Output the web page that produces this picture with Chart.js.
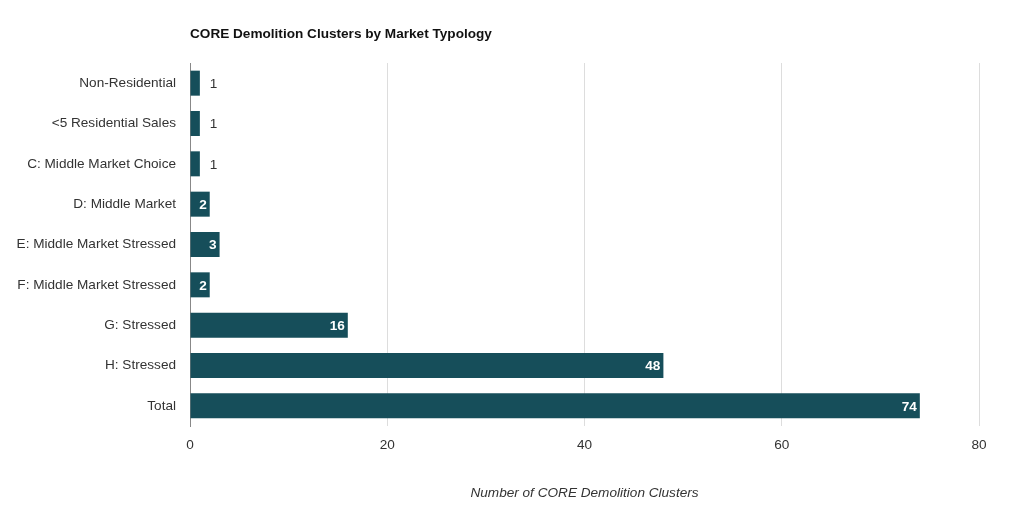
<!DOCTYPE html>
<html><head><meta charset="utf-8">
<script src="https://cdn.jsdelivr.net/npm/chart.js@4.4.1/dist/chart.umd.min.js"></script>
<style>html,body{margin:0;padding:0;background:#fff}#wrap{width:1024px;height:512px}</style>
</head><body><div id="wrap"><canvas id="c" width="1024" height="512"></canvas></div>
<script>
const chartTitle = 'CORE Demolition Clusters by Market Typology';
const categories = ['Non-Residential','<5 Residential Sales','C: Middle Market Choice','D: Middle Market','E: Middle Market Stressed','F: Middle Market Stressed','G: Stressed','H: Stressed','Total'];
const values = [1,1,1,2,3,2,16,48,74];
const xTicks = [0,20,40,60,80];
const xAxisTitle = 'Number of CORE Demolition Clusters';
const FONT = '"Liberation Sans", Arial, sans-serif';
const FS = 13.6;

const labelPlugin = {
  id: 'labels',
  afterDatasetsDraw(chart) {
    const ctx = chart.ctx;
    const meta = chart.getDatasetMeta(0);
    ctx.save();
    ctx.textBaseline = 'middle';
    meta.data.forEach((bar, i) => {
      const v = values[i];
      if (v >= 2) {
        ctx.font = 'bold ' + FS + 'px ' + FONT;
        ctx.fillStyle = '#ffffff';
        ctx.textAlign = 'right';
        ctx.fillText(String(v), bar.x - 3, bar.y + 1);
      } else {
        ctx.font = FS + 'px ' + FONT;
        ctx.fillStyle = '#333333';
        ctx.textAlign = 'left';
        ctx.fillText(String(v), bar.x + 10, bar.y + 1);
      }
    });
    ctx.restore();
  },
  afterDraw(chart) {
    const ctx = chart.ctx;
    ctx.save();
    ctx.font = 'bold ' + FS + 'px ' + FONT;
    ctx.fillStyle = '#111111';
    ctx.textAlign = 'left';
    ctx.textBaseline = 'middle';
    ctx.fillText(chartTitle, chart.chartArea.left, 34);
    ctx.restore();
  }
};

new Chart(document.getElementById('c'), {
  type: 'bar',
  data: { labels: categories, datasets: [{ data: values, backgroundColor: '#164e5a', barPercentage: 0.62, categoryPercentage: 1.0 }] },
  options: {
    indexAxis: 'y',
    responsive: false,
    animation: false,
    devicePixelRatio: 1,
    layout: { padding: { top: 63, right: 45, left: 0, bottom: 0 } },
    plugins: { legend: { display: false }, tooltip: { enabled: false } },
    scales: {
      x: {
        min: 0, max: 80,
        afterBuildTicks(scale) { scale.ticks = xTicks.map(v => ({ value: v })); },
        afterFit(scale) { scale.height = 86; },
        grid: { color: '#dddddd', drawTicks: false, lineWidth: 1 },
        border: { display: false },
        ticks: { padding: 11, color: '#333333', font: { family: FONT, size: FS } },
        title: { display: true, text: xAxisTitle, color: '#333333', padding: { top: 0, bottom: 11 }, font: { family: FONT, size: FS, style: 'italic' } }
      },
      y: {
        afterFit(scale) { scale.width = 190; },
        grid: { display: false, drawTicks: false },
        border: { display: true, color: '#888888', width: 1 },
        ticks: { padding: 14, color: '#333333', font: { family: FONT, size: FS } }
      }
    }
  },
  plugins: [labelPlugin]
});
</script>
</body></html>
